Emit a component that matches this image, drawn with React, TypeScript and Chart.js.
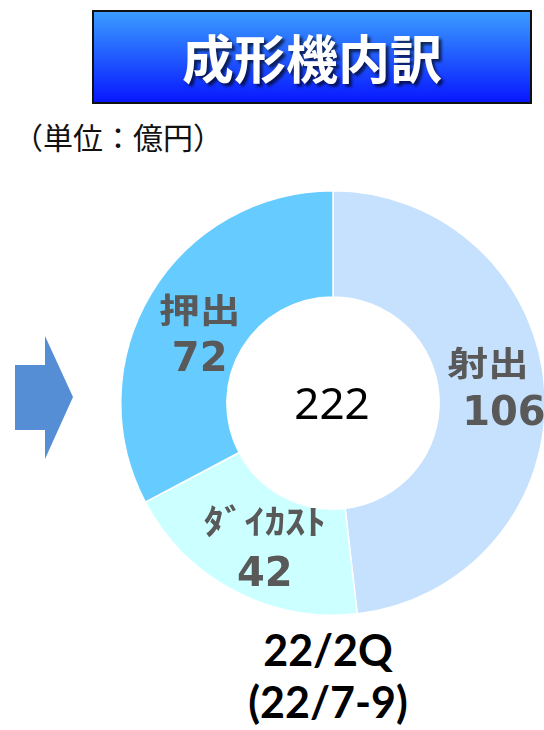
import React, { useEffect, useRef } from 'react';
import { Chart, registerables } from 'chart.js';

Chart.register(...registerables);

const categories = ['射出', 'ﾀﾞｲｶｽﾄ', '押出'];
const values = [106, 42, 72];
const totalLabel = '222';
const colors = ['#C6E1FD', '#CCFFFF', '#66CCFF'];
const title = '成形機内訳';
const unitLabel = '（単位：億円）';
const periodLines = ['22/2Q', '(22/7-9)'];

// small per-label nudges (layout only)
const nameNudge: [number, number][] = [[-4, -6], [6, 2], [3, 14]];
const numNudge: [number, number][] = [[12, -5], [6, 6], [3, 14]];

const labelPlugin = {
  id: 'segLabels',
  afterDatasetsDraw(chart: any) {
    const ctx = chart.ctx as CanvasRenderingContext2D;
    const meta = chart.getDatasetMeta(0);
    meta.data.forEach((arc: any, i: number) => {
      const p = arc.getProps(['x', 'y', 'startAngle', 'endAngle', 'innerRadius', 'outerRadius'], true);
      const a = (p.startAngle + p.endAngle) / 2;
      const r = (p.innerRadius + p.outerRadius) / 2;
      const cx = p.x + Math.cos(a) * r;
      const cy = p.y + Math.sin(a) * r;
      ctx.save();
      ctx.fillStyle = '#595959';
      ctx.textAlign = 'center';
      ctx.textBaseline = 'middle';
      ctx.translate(cx + nameNudge[i][0], cy - 25 + nameNudge[i][1]);
      ctx.scale(1.2, 1);
      ctx.font = "bold 34px 'Noto Sans CJK JP'";
      ctx.fillText(categories[i], 0, 0);
      ctx.restore();
      ctx.save();
      ctx.fillStyle = '#595959';
      ctx.textAlign = 'center';
      ctx.textBaseline = 'middle';
      ctx.font = "bold 40px 'DejaVu Sans'";
      ctx.fillText(String(values[i]), cx + numNudge[i][0], cy + 26 + numNudge[i][1]);
      ctx.restore();
    });
    const c = meta.data[0];
    ctx.save();
    ctx.fillStyle = '#000';
    ctx.textAlign = 'center';
    ctx.textBaseline = 'middle';
    ctx.font = "44px 'Noto Sans'";
    ctx.fillText(totalLabel, c.x - 1, c.y + 3);
    ctx.restore();
  },
};

export default function App() {
  const ref = useRef<HTMLCanvasElement>(null);
  useEffect(() => {
    if (!ref.current) return;
    const chart = new Chart(ref.current, {
      type: 'doughnut',
      data: {
        labels: categories,
        datasets: [
          {
            data: values,
            backgroundColor: colors,
            borderColor: '#ffffff',
            borderWidth: 1.5,
          },
        ],
      },
      options: {
        responsive: false,
        animation: false,
        cutout: '50%',
        layout: { padding: 0 },
        plugins: { legend: { display: false }, tooltip: { enabled: false } },
      },
      plugins: [labelPlugin],
    });
    return () => chart.destroy();
  }, []);

  return (
    <div style={{ position: 'fixed', left: 0, top: 0, width: 544, height: 730, background: '#fff', overflow: 'hidden' }}>
      <div
        style={{
          position: 'absolute',
          left: 92,
          top: 10,
          width: 436,
          height: 90,
          border: '2px solid #111',
          background: 'linear-gradient(#3a9cff, #0818ff)',
          display: 'flex',
          alignItems: 'center',
          justifyContent: 'center',
          color: '#fff',
          fontFamily: "'Noto Sans CJK JP'",
          fontWeight: 700,
          fontSize: 52,
          lineHeight: '52px',
          textShadow: '3px 3px 3px rgba(0,0,0,0.65)',
        }}
      >
        {title}
      </div>
      <div
        style={{
          position: 'absolute',
          left: 13,
          top: 120,
          fontFamily: "'Noto Sans CJK JP'",
          fontSize: 30,
          lineHeight: '32px',
          color: '#111',
          whiteSpace: 'nowrap',
        }}
      >
        {unitLabel}
      </div>
      <svg style={{ position: 'absolute', left: 0, top: 0 }} width={100} height={500}>
        <polygon points="15,365 45,365 45,336 73,397 45,459 45,430 15,430" fill="#558ED5" />
      </svg>
      <canvas ref={ref} width={426} height={426} style={{ position: 'absolute', left: 120, top: 190 }} />
      <div
        style={{
          position: 'absolute',
          left: 200,
          top: 624,
          width: 256,
          textAlign: 'center',
          fontFamily: 'Lato',
          fontWeight: 700,
          fontSize: 43,
          lineHeight: '52px',
          color: '#000',
        }}
      >
        <div>{periodLines[0]}</div>
        <div>{periodLines[1]}</div>
      </div>
    </div>
  );
}
